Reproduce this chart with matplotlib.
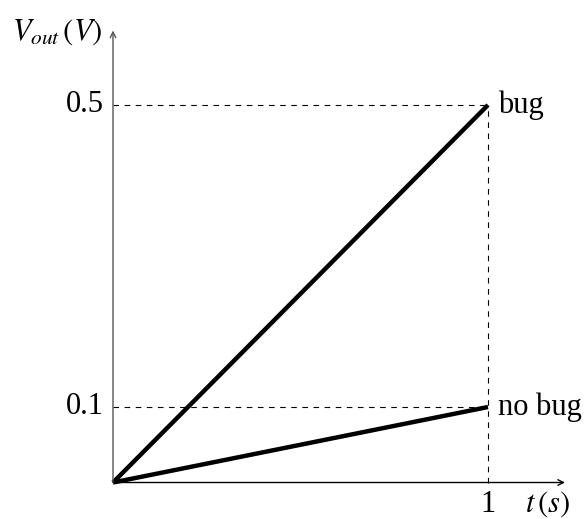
import matplotlib
matplotlib.use("Agg")
import matplotlib.pyplot as plt

plt.rcParams['mathtext.fontset'] = 'stix'
plt.rcParams['font.family'] = ['Liberation Serif', 'DejaVu Serif']

t = [0, 1]
v_bug = [0, 0.5]
v_nobug = [0, 0.1]
yticks = [0.1, 0.5]
ytick_labels = ["0.1", "0.5"]
xticks = [1]
xtick_labels = ["1"]
labels = ["bug", "no bug"]

fig = plt.figure(figsize=(5.84, 5.19), dpi=100)
ax = fig.add_axes([0, 0, 1, 1])
ax.set_xlim(-113/375, 471/375)
ax.set_ylim(-36.5/755, 482.5/755)
ax.axis('off')

# axes with arrows
ax.annotate('', xy=(452/375, 0), xytext=(0, 0),
            arrowprops=dict(arrowstyle='->', color='black', lw=1.0, shrinkA=0, shrinkB=0))
ax.annotate('', xy=(0, 452/755), xytext=(0, 0),
            arrowprops=dict(arrowstyle='->', color='#555555', lw=1.0, shrinkA=0, shrinkB=0))

# dashed guides
for yv in yticks:
    ax.plot([0, xticks[0]], [yv, yv], color='black', lw=0.8, ls=(0, (5, 5)))
ax.plot([xticks[0], xticks[0]], [0, max(yticks)], color='black', lw=0.8, ls=(0, (5, 5)))

ax.plot(t, v_bug, color='black', lw=3.2, solid_capstyle='butt')
ax.plot(t, v_nobug, color='black', lw=3.2, solid_capstyle='butt')

fs = 22
for yv, lab in zip(yticks, ytick_labels):
    ax.text(-9/375, yv, lab, ha='right', va='center', fontsize=fs)
for xv, lab in zip(xticks, xtick_labels):
    ax.text(xv, -22/755, lab, ha='center', va='center', fontsize=fs)
ax.text(t[1] + 10/375, v_bug[1], labels[0], ha='left', va='center', fontsize=fs)
ax.text(t[1] + 10/375, v_nobug[1], labels[1], ha='left', va='center', fontsize=fs)
ax.text(412/375, -22/755, r'$t\,(s)$', ha='left', va='center', fontsize=fs)
ax.text(-101/375, 450/755, r'$V_{out}\,(V)$', ha='left', va='center', fontsize=fs)

fig.savefig('out.png', dpi=100)
